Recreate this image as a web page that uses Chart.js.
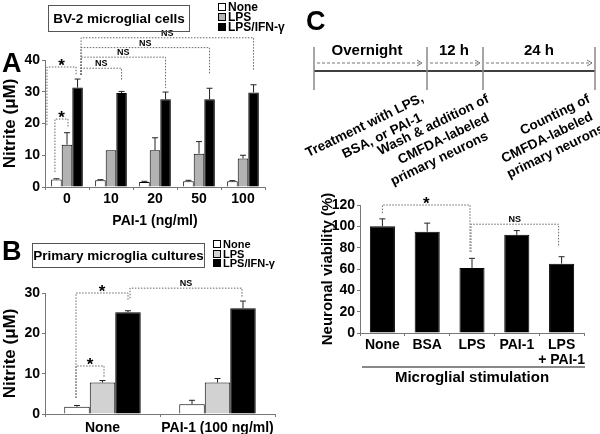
<!DOCTYPE html>
<html>
<head>
<meta charset="utf-8">
<script src="https://cdn.jsdelivr.net/npm/chart.js@4.4.1/dist/chart.umd.min.js"></script>
<style>
  body { margin: 0; width: 600px; height: 434px; position: relative; overflow: hidden; background: #fff;
         font-family: "Liberation Sans", Arial, Helvetica, sans-serif; font-weight: bold; color: #000; }
  .abs { position: absolute; }
  .letter { font-size: 27px; line-height: 1; }
  .title { border: 1px solid #555; text-align: center; font-size: 13.5px; box-sizing: border-box; }
  .legend { font-size: 12px; line-height: 10px; }
  .legend span { display: inline-block; width: 6px; height: 6px; border: 1px solid #000; margin-right: 2px; vertical-align: 0; }
  .step { position: absolute; font-size: 13.5px; line-height: 16.5px; text-align: right; white-space: nowrap;
          transform-origin: 100% 0; transform: rotate(-26deg); }
</style>
</head>
<body>
<canvas id="chartA" class="abs" style="left:0;top:0" width="300" height="235"></canvas>
<canvas id="chartB" class="abs" style="left:0;top:235px" width="300" height="199"></canvas>
<canvas id="chartC" class="abs" style="left:300px;top:180px" width="300" height="254"></canvas>

<div class="abs letter" style="left:2px;top:50px">A</div>
<div class="abs title" style="left:48px;top:5px;width:142px;height:27px;line-height:25px">BV-2 microglial cells</div>
<div class="abs legend" style="left:218px;top:2px">
  <div><span style="background:#fff"></span>None</div>
  <div><span style="background:#b3b3b3"></span>LPS</div>
  <div><span style="background:#000"></span>LPS/IFN-γ</div>
</div>

<div class="abs letter" style="left:2px;top:238px">B</div>
<div class="abs title" style="left:32px;top:243px;width:173px;height:25px;line-height:23px">Primary microglia cultures</div>
<div class="abs legend" style="left:213px;top:240px;font-size:11px;line-height:9.5px">
  <div><span style="background:#fff"></span>None</div>
  <div><span style="background:#d2d2d2"></span>LPS</div>
  <div><span style="background:#000"></span>LPS/IFN-γ</div>
</div>

<div class="abs letter" style="left:306px;top:8px">C</div>
<svg class="abs" style="left:300px;top:0" width="300" height="180" font-family="'Liberation Sans', Arial, sans-serif" font-weight="bold">
  <line x1="14" y1="71" x2="295" y2="71" stroke="#000" stroke-width="1.5"/>
  <g stroke="#888" stroke-width="1.5">
    <line x1="14" y1="47" x2="14" y2="90"/>
    <line x1="127" y1="47" x2="127" y2="90"/>
    <line x1="183" y1="47" x2="183" y2="90"/>
    <line x1="295" y1="47" x2="295" y2="90"/>
  </g>
  <g stroke="#777" stroke-width="1" fill="none">
    <line x1="17" y1="63" x2="122" y2="63" stroke-dasharray="3,2"/>
    <polyline points="117,60 122,63 117,66"/>
    <line x1="130" y1="63" x2="180" y2="63" stroke-dasharray="3,2"/>
    <polyline points="175,60 180,63 175,66"/>
    <line x1="186" y1="63" x2="292" y2="63" stroke-dasharray="3,2"/>
    <polyline points="287,60 292,63 287,66"/>
  </g>
  <g font-size="15" text-anchor="middle">
    <text x="67" y="55">Overnight</text>
    <text x="154" y="55">12 h</text>
    <text x="239" y="55">24 h</text>
  </g>
</svg>
<!-- rotated step notes, right edge pinned near each time mark -->
<div class="step" style="right:181px;top:90px">Treatment with LPS,<br><span style="padding-right:10px">BSA, or PAI-1</span></div>
<div class="step" style="right:115px;top:91px">Wash &amp; addition of<br><span style="padding-right:8px">CMFDA-labeled</span><br><span style="padding-right:17px">primary neurons</span></div>
<div class="step" style="right:14px;top:91px">Counting of<br><span style="padding-right:5px">CMFDA-labeled</span><br>primary neurons</div>
<div class="abs" style="left:362px;top:366px;width:223px;height:2px;background:#888"></div>

<script>
// panel A: BV-2 microglial cells, nitrite (uM)
const doseLabels = ["0", "10", "20", "50", "100"];
const bvNone = [2.4, 2.1, 1.6, 1.8, 1.8];
const bvNoneErr = [0.2, 0.2, 0.2, 0.3, 0.2];
const bvLps = [13.3, 11.6, 11.6, 10.5, 9.0];
const bvLpsErr = [3.8, 0, 3.9, 3.8, 1.0];
const bvIfn = [31.3, 29.6, 27.6, 27.6, 29.8];
const bvIfnErr = [2.7, 0.5, 2.3, 3.5, 2.4];

// panel B: primary microglia cultures, nitrite (uM)
const primLabels = ["None", "PAI-1 (100 ng/ml)"];
const primNone = [1.8, 2.4];
const primNoneErr = [0.3, 1.0];
const primLps = [7.8, 7.8];
const primLpsErr = [0.5, 1.0];
const primIfn = [25.2, 26.2];
const primIfnErr = [0.4, 1.8];

// panel C: neuronal viability (%)
const stimLabels = ["None", "BSA", "LPS", "PAI-1", ["LPS", "+ PAI-1"]];
const viability = [100, 95, 61, 92, 65];
const viabilityErr = [7, 8, 9, 4, 6.5];

// significance brackets: end = [dataset, index, shift px, leg bottom value]
const bvBrackets = [
  { a: [0, 0, -9.5, 19.5], b: [2, 0, -1.5, 35.3], top: 37.8, text: "*" },
  { a: [0, 0, -1.5, 4.7], b: [1, 0, 1, 18.6], top: 21.4, text: "*" },
  { a: [2, 0, 3.5, 35.3], b: [2, 1, 0, 33.7], top: 37.4, text: "NS" },
  { a: [2, 0, 3.5, 35.3], b: [2, 2, 0, 31.2], top: 40.9, text: "NS" },
  { a: [2, 0, 3.5, 35.3], b: [2, 3, 0, 35.3], top: 43.9, text: "NS" },
  { a: [2, 0, 3.5, 35.3], b: [2, 4, 0, 36.5], top: 47.0, text: "NS" },
];
const primBrackets = [
  { a: [0, 0, -1, 4.0], b: [2, 0, 0, 28.2], top: 30.0, text: "*" },
  { a: [0, 0, -1, 4.0], b: [1, 0, 1.5, 9.2], top: 11.9, text: "*" },
  { a: [2, 0, 2, 28.7], b: [2, 1, -1, 29.0], top: 31.2, text: "NS" },
];
const stimBrackets = [
  { a: [0, 0, 0, 112.4], b: [0, 2, -2, 75], top: 120, text: "*" },
  { a: [0, 2, -1, 76], b: [0, 4, -3, 80.6], top: 102, text: "NS" },
];

Chart.defaults.font.family = '"Liberation Sans", Arial, Helvetica, sans-serif';
Chart.defaults.font.weight = "bold";
Chart.defaults.color = "#000";

const errorBars = {
  id: "errorBars",
  afterDatasetsDraw(chart) {
    const ctx = chart.ctx;
    const y = chart.scales.y;
    chart.data.datasets.forEach((ds, di) => {
      if (!ds.errors) return;
      chart.getDatasetMeta(di).data.forEach((bar, i) => {
        if (!ds.errors[i]) return;
        const top = y.getPixelForValue(ds.data[i] + ds.errors[i]);
        ctx.save();
        ctx.strokeStyle = "#222";
        ctx.lineWidth = 1;
        ctx.beginPath();
        ctx.moveTo(bar.x, bar.y);
        ctx.lineTo(bar.x, top);
        ctx.moveTo(bar.x - 3, top);
        ctx.lineTo(bar.x + 3, top);
        ctx.stroke();
        ctx.restore();
      });
    });
  },
};

function bracketPlugin(list) {
  return {
    id: "brackets",
    afterDraw(chart) {
      const ctx = chart.ctx;
      const y = chart.scales.y;
      const xOf = (e) => chart.getDatasetMeta(e[0]).data[e[1]].x + e[2];
      list.forEach((b) => {
        const xa = xOf(b.a);
        const xb = xOf(b.b);
        const yt = y.getPixelForValue(b.top);
        ctx.save();
        ctx.strokeStyle = "#666";
        ctx.lineWidth = 1;
        ctx.setLineDash([1.5, 1.5]);
        ctx.beginPath();
        ctx.moveTo(xa, y.getPixelForValue(b.a[3]));
        ctx.lineTo(xa, yt);
        ctx.lineTo(xb, yt);
        ctx.lineTo(xb, y.getPixelForValue(b.b[3]));
        ctx.stroke();
        ctx.setLineDash([]);
        ctx.fillStyle = "#000";
        ctx.textAlign = "center";
        ctx.textBaseline = "alphabetic";
        if (b.text === "*") {
          ctx.font = 'bold 17px "Liberation Sans", Arial, sans-serif';
          ctx.fillText(b.text, (xa + xb) / 2, yt + 4);
        } else {
          ctx.font = 'bold 9px "Liberation Sans", Arial, sans-serif';
          ctx.fillText(b.text, (xa + xb) / 2, yt - 2);
        }
        ctx.restore();
      });
    },
  };
}

function axisGrid() {
  return { display: true, drawOnChartArea: false, tickLength: 3, color: "#777" };
}

new Chart(document.getElementById("chartA"), {
  type: "bar",
  data: {
    labels: doseLabels,
    datasets: [
      { label: "None", data: bvNone, errors: bvNoneErr, backgroundColor: "#fff", borderColor: "#000", borderWidth: 1 },
      { label: "LPS", data: bvLps, errors: bvLpsErr, backgroundColor: "#b3b3b3", borderColor: "#000", borderWidth: 1 },
      { label: "LPS/IFN-γ", data: bvIfn, errors: bvIfnErr, backgroundColor: "#000", borderColor: "#000", borderWidth: 1 },
    ],
  },
  options: {
    responsive: false,
    animation: false,
    layout: { padding: { top: 60, right: 35, left: 0, bottom: 0 } },
    datasets: { bar: { categoryPercentage: 0.72, barPercentage: 1 } },
    plugins: { legend: { display: false }, tooltip: { enabled: false } },
    scales: {
      x: {
        grid: axisGrid(),
        border: { color: "#777" },
        ticks: { font: { size: 14 }, padding: 1, maxRotation: 0, autoSkip: false },
        title: { display: true, text: "PAI-1 (ng/ml)", font: { size: 14 }, padding: { top: 0, bottom: 5 } },
        afterFit: (s) => { s.height = 48; },
      },
      y: {
        min: 0,
        max: 40,
        grid: axisGrid(),
        border: { color: "#777" },
        ticks: { stepSize: 10, font: { size: 14 }, padding: 2 },
        title: { display: true, text: "Nitrite (μM)", font: { size: 17 }, padding: { top: 0, bottom: 0 } },
        afterFit: (s) => { s.width = 45; },
      },
    },
  },
  plugins: [errorBars, bracketPlugin(bvBrackets)],
});

new Chart(document.getElementById("chartB"), {
  type: "bar",
  data: {
    labels: primLabels,
    datasets: [
      { label: "None", data: primNone, errors: primNoneErr, backgroundColor: "#fff", borderColor: "#000", borderWidth: 1 },
      { label: "LPS", data: primLps, errors: primLpsErr, backgroundColor: "#d2d2d2", borderColor: "#000", borderWidth: 1 },
      { label: "LPS/IFN-γ", data: primIfn, errors: primIfnErr, backgroundColor: "#000", borderColor: "#000", borderWidth: 1 },
    ],
  },
  options: {
    responsive: false,
    animation: false,
    layout: { padding: { top: 58, right: 25, left: 0, bottom: 0 } },
    datasets: { bar: { categoryPercentage: 0.665, barPercentage: 1 } },
    plugins: { legend: { display: false }, tooltip: { enabled: false } },
    scales: {
      x: {
        grid: axisGrid(),
        border: { color: "#777" },
        ticks: { font: { size: 14 }, padding: 3, maxRotation: 0, autoSkip: false },
        afterFit: (s) => { s.height = 20; },
      },
      y: {
        min: 0,
        max: 30,
        grid: axisGrid(),
        border: { color: "#777" },
        ticks: { stepSize: 10, font: { size: 14 }, padding: 2 },
        title: { display: true, text: "Nitrite (μM)", font: { size: 17 }, padding: { top: 0, bottom: 0 } },
        afterFit: (s) => { s.width = 45; },
      },
    },
  },
  plugins: [errorBars, bracketPlugin(primBrackets)],
});

new Chart(document.getElementById("chartC"), {
  type: "bar",
  data: {
    labels: stimLabels,
    datasets: [
      { label: "Neuronal viability", data: viability, errors: viabilityErr, backgroundColor: "#000", borderColor: "#000", borderWidth: 1 },
    ],
  },
  options: {
    responsive: false,
    animation: false,
    layout: { padding: { top: 25, right: 16, left: 0, bottom: 45 } },
    datasets: { bar: { categoryPercentage: 0.56, barPercentage: 1 } },
    plugins: { legend: { display: false }, tooltip: { enabled: false } },
    scales: {
      x: {
        grid: axisGrid(),
        border: { color: "#777" },
        ticks: { font: { size: 14, lineHeight: 1.1 }, padding: 1, maxRotation: 0, autoSkip: false },
        title: { display: true, text: "Microglial stimulation", font: { size: 15 }, padding: { top: 0, bottom: 2 } },
        afterFit: (s) => { s.height = 56; },
      },
      y: {
        min: 0,
        max: 120,
        grid: axisGrid(),
        border: { color: "#777" },
        ticks: { stepSize: 20, font: { size: 14 }, padding: 2 },
        title: { display: true, text: "Neuronal viability (%)", font: { size: 15 }, padding: { top: 19, bottom: 0 } },
        afterFit: (s) => { s.width = 60; },
      },
    },
  },
  plugins: [errorBars, bracketPlugin(stimBrackets)],
});
</script>
</body>
</html>
